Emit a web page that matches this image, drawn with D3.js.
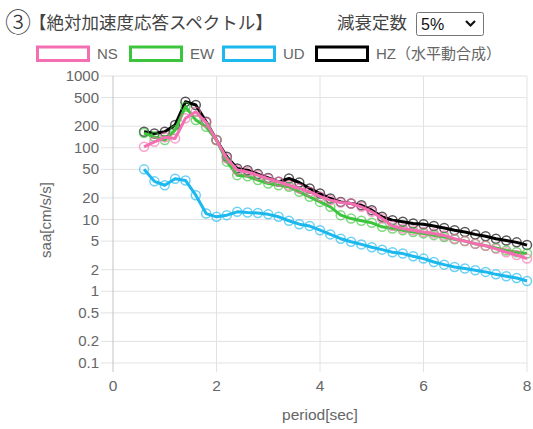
<!DOCTYPE html>
<html>
<head>
<meta charset="utf-8">
<script src="https://cdn.jsdelivr.net/npm/d3@7"></script>
<style>
  body { margin: 0; background: #fff; }
  text { font-family: "Liberation Sans", Arial, "Noto Sans CJK JP", sans-serif; }
</style>
</head>
<body>
<div id="chart-area"></div>
<script>
// period [sec]
const periods = [0.6, 0.8, 1.0, 1.2, 1.4, 1.6, 1.8, 2.0, 2.2, 2.4, 2.6, 2.8, 3.0, 3.2, 3.4, 3.6, 3.8, 4.0, 4.2, 4.4,
  4.6, 4.8, 5.0, 5.2, 5.4, 5.6, 5.8, 6.0, 6.2, 6.4, 6.6, 6.8, 7.0, 7.2, 7.4, 7.6, 7.8, 8.0];

// saa [cm/s/s]
const nsValues = [103, 121, 140, 135, 257, 318, 225, 128, 71, 49, 46, 41.5, 37, 33.5, 30, 27, 24.3, 21, 18.6, 17.3,
  16.7, 15, 12.8, 10.3, 8.1, 7.5, 7.1, 6.7, 6.4, 6.0, 5.4, 5.0, 4.6, 4.3, 3.9, 3.5, 3.2, 2.85];
const ewValues = [160, 142, 128, 176, 373, 243, 196, 128, 64, 41.5, 40, 35.4, 31.8, 30.1, 28.5, 24.3, 20.7, 17.6, 15, 11.5,
  10.3, 9.6, 9.0, 7.9, 7.5, 7.1, 6.7, 6.4, 6.05, 5.7, 5.3, 5.0, 4.6, 4.3, 4.0, 3.7, 3.5, 3.35];
const udValues = [50, 34, 30, 37, 35, 21.8, 12.1, 10.9, 11.5, 12.8, 12.5, 12.3, 11.8, 10.9, 9.6, 8.6, 8.1, 7.1, 6.2, 5.4,
  4.9, 4.5, 4.1, 3.8, 3.5, 3.35, 3.07, 2.85, 2.56, 2.35, 2.18, 2.07, 1.96, 1.86, 1.72, 1.62, 1.53, 1.39];
const hzValues = [167, 158, 167, 207, 437, 394, 230, 128, 75, 51.5, 48.7, 42.9, 38, 33.5, 37.3, 32.8, 27.1, 23, 19.6, 17.6,
  16.7, 15.8, 13.5, 10.9, 9.8, 9.3, 8.8, 8.6, 8.1, 7.6, 7.1, 6.7, 6.2, 5.85, 5.4, 5.1, 4.8, 4.4];

const seriesNames = ["NS", "EW", "UD", "HZ（水平動合成）"];
const seriesColors = ["#f46fb1", "#3cc53c", "#1cb8ee", "#000000"];
const yTicks = [1000, 500, 200, 100, 50, 20, 10, 5, 2, 1, 0.5, 0.2, 0.1];
const xTicks = [0, 2, 4, 6, 8];

const width = 533;
const height = 429;
const margin = { top: 76, right: 6, bottom: 66, left: 113 };

const svg = d3.select("#chart-area")
  .append("svg")
  .attr("width", width)
  .attr("height", height);

// title + damping selector
svg.append("text")
  .attr("x", 5).attr("y", 32)
  .attr("fill", "#333")
  .style("font-family", "'Noto Sans CJK JP', sans-serif")
  .style("font-size", "26px")
  .style("font-weight", 300)
  .text("③");
svg.append("text")
  .attr("x", 29).attr("y", 29)
  .attr("fill", "#444")
  .style("font-family", "'Noto Sans CJK JP', sans-serif")
  .style("font-size", "17.5px")
  .text("【絶対加速度応答スペクトル】");
svg.append("text")
  .attr("x", 337).attr("y", 29)
  .attr("fill", "#444")
  .style("font-family", "'Noto Sans CJK JP', sans-serif")
  .style("font-size", "17.5px")
  .text("減衰定数");

const sel = svg.append("g").attr("transform", "translate(416,12)");
sel.append("rect")
  .attr("x", 0.5).attr("y", 0.5)
  .attr("width", 67).attr("height", 23)
  .attr("rx", 2)
  .attr("fill", "#fff")
  .attr("stroke", "#767676");
sel.append("text")
  .attr("x", 5).attr("y", 18)
  .attr("fill", "#111")
  .style("font-size", "16px")
  .text("5%");
sel.append("path")
  .attr("d", "M50,9 L54.5,13.5 L59,9")
  .attr("fill", "none")
  .attr("stroke", "#111")
  .attr("stroke-width", 2.2);

// legend
const legendX = [36, 129, 222, 315];
seriesNames.forEach((name, i) => {
  svg.append("rect")
    .attr("x", legendX[i] + 1.5).attr("y", 47)
    .attr("width", 51).attr("height", 13.5)
    .attr("fill", "#fff")
    .attr("stroke", seriesColors[i])
    .attr("stroke-width", 3);
  svg.append("text")
    .attr("x", legendX[i] + 61).attr("y", 59)
    .attr("fill", "#666")
    .style("font-size", "15px")
    .text(name);
});

// scales
const xScale = d3.scaleLinear()
  .domain([0, 8])
  .range([margin.left, width - margin.right]);

const yScale = d3.scaleLog()
  .domain([0.1, 1000])
  .range([height - margin.bottom, margin.top]);

// grid lines
svg.append("g")
  .selectAll("line")
  .data(yTicks)
  .enter()
  .append("line")
  .attr("x1", margin.left - 12)
  .attr("x2", width - margin.right)
  .attr("y1", d => yScale(d))
  .attr("y2", d => yScale(d))
  .attr("stroke", "#e2e2e2")
  .attr("stroke-width", 1);

svg.append("g")
  .selectAll("line")
  .data(xTicks)
  .enter()
  .append("line")
  .attr("x1", d => xScale(d))
  .attr("x2", d => xScale(d))
  .attr("y1", margin.top)
  .attr("y2", height - margin.bottom + 9)
  .attr("stroke", (d, i) => i === 0 ? "#c4c4c4" : "#e2e2e2")
  .attr("stroke-width", 1);

// tick labels
svg.append("g")
  .selectAll("text")
  .data(yTicks)
  .enter()
  .append("text")
  .attr("x", margin.left - 14)
  .attr("y", d => yScale(d) + 5)
  .attr("text-anchor", "end")
  .attr("fill", "#666")
  .style("font-size", "15px")
  .text(d => d);

svg.append("g")
  .selectAll("text")
  .data(xTicks)
  .enter()
  .append("text")
  .attr("x", d => xScale(d))
  .attr("y", 391)
  .attr("text-anchor", "middle")
  .attr("fill", "#666")
  .style("font-size", "15.5px")
  .text(d => d);

// axis titles
svg.append("text")
  .attr("x", (margin.left + width - margin.right) / 2)
  .attr("y", 420)
  .attr("text-anchor", "middle")
  .attr("fill", "#666")
  .style("font-size", "15.5px")
  .text("period[sec]");

svg.append("text")
  .attr("transform", "translate(51,220) rotate(-90)")
  .attr("text-anchor", "middle")
  .attr("fill", "#666")
  .style("font-size", "15px")
  .text("saa[cm/s/s]");

// series, drawn back to front (HZ first, NS on top)
const seriesValues = [nsValues, ewValues, udValues, hzValues];
const line = d3.line()
  .x(d => xScale(d.x))
  .y(d => yScale(d.y));

for (let i = seriesValues.length - 1; i >= 0; i--) {
  const data = periods.map((p, j) => ({ x: p, y: seriesValues[i][j] }));
  const g = svg.append("g");
  g.append("path")
    .datum(data)
    .attr("d", line)
    .attr("fill", "none")
    .attr("stroke", seriesColors[i])
    .attr("stroke-width", 3)
    .attr("stroke-linejoin", "round");
  g.selectAll("circle")
    .data(data)
    .enter()
    .append("circle")
    .attr("cx", d => xScale(d.x))
    .attr("cy", d => yScale(d.y))
    .attr("r", 4.5)
    .attr("fill", "none")
    .attr("stroke", seriesColors[i])
    .attr("stroke-opacity", 0.65)
    .attr("stroke-width", 1.5);
}
</script>
</body>
</html>
